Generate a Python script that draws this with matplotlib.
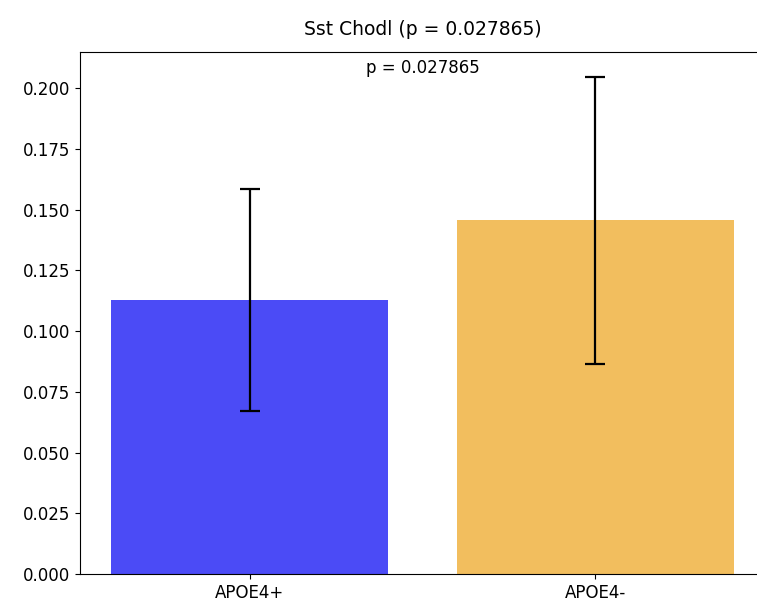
import matplotlib
matplotlib.use("Agg")
import matplotlib.pyplot as plt

# values
groups = ["APOE4+", "APOE4-"]
means = [0.1127, 0.1456]
errors = [0.0458, 0.0590]
colors = ["#4b4bf6", "#f2be5e"]
p_value = 0.027865
cell_type = "Sst Chodl"

fig = plt.figure(figsize=(7.57, 6.1), dpi=100)
# right edge of the axes is cut off in the reference
ax = fig.add_axes([80 / 757, 36 / 610, 685 / 757, 522 / 610])

x = list(range(len(groups)))
ax.bar(x, means, yerr=errors, color=colors, capsize=7,
       error_kw={"elinewidth": 1.6, "capthick": 1.6})
ax.set_xticks(x)
ax.set_xticklabels(groups)
ax.tick_params(labelsize=12)

top = max(m + e for m, e in zip(means, errors))
ax.text(0.5, top, f"p = {p_value:.6f}", ha="center", va="bottom", fontsize=12)
ax.set_title(f"{cell_type} (p = {p_value:.6f})", fontsize=13.5, pad=12)

fig.savefig("out.png", dpi=100)
